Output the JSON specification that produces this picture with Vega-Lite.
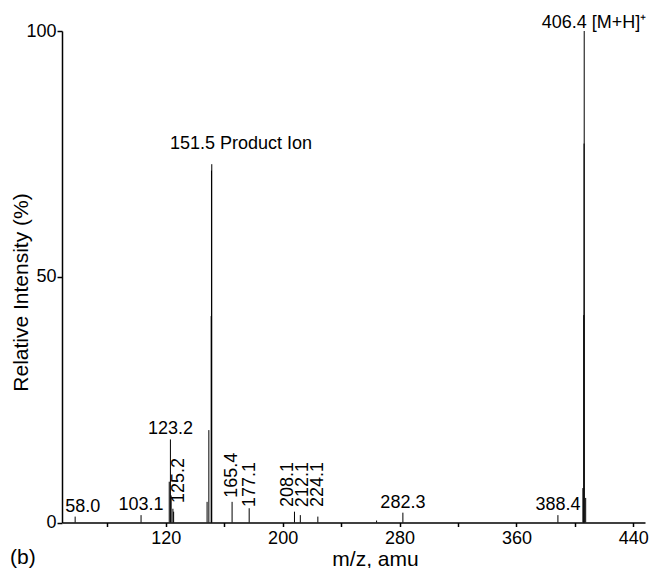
{
  "$schema": "https://vega.github.io/schema/vega-lite/v6.json",
  "width": 583,
  "height": 491.5,
  "autosize": {"type": "none"},
  "padding": {"left": 62, "top": 31, "right": 4, "bottom": 45.5},
  "title": {"text": "(b)", "orient": "bottom", "anchor": "start", "frame": "bounds", "offset": -22, "fontSize": 21, "fontWeight": "normal", "color": "black", "font": "Liberation Sans"},
  "datasets": {
    "sticks": [
      {"mz": 58.0, "intensity": 1.2},
      {"mz": 103.1, "intensity": 1.5},
      {"mz": 122.4, "intensity": 8.3},
      {"mz": 123.2, "intensity": 16.9},
      {"mz": 123.7, "intensity": 5.5},
      {"mz": 124.9, "intensity": 2.8},
      {"mz": 125.4, "intensity": 2.2},
      {"mz": 148.3, "intensity": 4.2},
      {"mz": 149.5, "intensity": 18.8},
      {"mz": 151.1, "intensity": 42.0},
      {"mz": 151.3, "intensity": 71.6},
      {"mz": 151.5, "intensity": 72.9},
      {"mz": 165.4, "intensity": 4.2},
      {"mz": 177.1, "intensity": 2.9},
      {"mz": 208.1, "intensity": 2.2},
      {"mz": 212.1, "intensity": 1.5},
      {"mz": 224.1, "intensity": 1.2},
      {"mz": 264.3, "intensity": 0.4},
      {"mz": 282.3, "intensity": 2.0},
      {"mz": 388.4, "intensity": 1.5},
      {"mz": 405.5, "intensity": 7.0},
      {"mz": 406.1, "intensity": 42.2},
      {"mz": 406.3, "intensity": 77.1},
      {"mz": 406.4, "intensity": 100},
      {"mz": 407.4, "intensity": 5.0}
    ],
    "labels": [
      {"mz": 58.0, "intensity": 1.2, "label": "58.0"},
      {"mz": 103.1, "intensity": 1.5, "label": "103.1"},
      {"mz": 123.2, "intensity": 16.9, "label": "123.2"},
      {"mz": 125.2, "intensity": 2.2, "label": "125.2"},
      {"mz": 151.5, "intensity": 72.9, "label": "151.5 Product Ion"},
      {"mz": 165.4, "intensity": 4.2, "label": "165.4"},
      {"mz": 177.1, "intensity": 2.9, "label": "177.1"},
      {"mz": 208.1, "intensity": 2.2, "label": "208.1"},
      {"mz": 212.1, "intensity": 1.5, "label": "212.1"},
      {"mz": 224.1, "intensity": 1.2, "label": "224.1"},
      {"mz": 282.3, "intensity": 2.0, "label": "282.3"},
      {"mz": 388.4, "intensity": 1.5, "label": "388.4"},
      {"mz": 406.4, "intensity": 100, "label": "406.4 [M+H]⁺"}
    ]
  },
  "encoding": {
    "x": {
      "field": "mz", "type": "quantitative",
      "scale": {"domain": [49, 448], "nice": false, "zero": false},
      "axis": {
        "title": "m/z, amu",
        "values": [80, 120, 160, 200, 240, 280, 320, 360, 400, 440],
        "labelExpr": "datum.value % 80 == 40 ? datum.label : ''",
        "tickSize": 4, "labelPadding": 3,
        "titleX": 313, "titleY": 42.5, "titleBaseline": "alphabetic"
      }
    },
    "y": {
      "field": "intensity", "type": "quantitative",
      "scale": {"domain": [0, 100], "nice": false},
      "axis": {
        "title": "Relative Intensity (%)",
        "values": [0, 50, 100],
        "tickSize": 5, "labelPadding": 1,
        "titleX": -41, "titleY": 261, "titleBaseline": "middle", "titleAlign": "center"
      }
    }
  },
  "layer": [
    {
      "data": {"name": "sticks"},
      "mark": {"type": "rule", "color": "black", "strokeWidth": 1},
      "encoding": {"y2": {"datum": 0}}
    },
    {
      "data": {"name": "labels"},
      "transform": [{"filter": "indexof(['103.1','123.2','282.3','388.4'], datum.label) >= 0"}],
      "mark": {"type": "text", "fontSize": 18, "color": "black", "align": "center", "baseline": "alphabetic", "dy": -5},
      "encoding": {"text": {"field": "label"}}
    },
    {
      "data": {"name": "labels"},
      "transform": [{"filter": "datum.label == '58.0'"}],
      "mark": {"type": "text", "fontSize": 18, "color": "black", "align": "center", "baseline": "alphabetic", "dx": 7.5, "dy": -5},
      "encoding": {"text": {"field": "label"}}
    },
    {
      "data": {"name": "labels"},
      "transform": [{"filter": "datum.label == '151.5 Product Ion'"}],
      "mark": {"type": "text", "fontSize": 18, "color": "black", "align": "left", "baseline": "alphabetic", "dx": -41.8, "dy": -15},
      "encoding": {"text": {"field": "label"}}
    },
    {
      "data": {"name": "labels"},
      "transform": [{"filter": "datum.label == '406.4 [M+H]⁺'"}],
      "mark": {"type": "text", "fontSize": 18, "color": "black", "align": "left", "baseline": "alphabetic", "dx": -42.5, "dy": -3},
      "encoding": {"text": {"field": "label"}}
    },
    {
      "data": {"name": "labels"},
      "transform": [{"filter": "datum.label == '125.2'"}],
      "mark": {"type": "text", "fontSize": 18, "color": "black", "angle": 270, "align": "left", "baseline": "middle", "dx": 8.7, "dy": 6},
      "encoding": {"text": {"field": "label"}}
    },
    {
      "data": {"name": "labels"},
      "transform": [{"filter": "datum.label == '165.4'"}],
      "mark": {"type": "text", "fontSize": 18, "color": "black", "angle": 270, "align": "left", "baseline": "middle", "dx": 4, "dy": 0},
      "encoding": {"text": {"field": "label"}}
    },
    {
      "data": {"name": "labels"},
      "transform": [{"filter": "datum.label == '177.1'"}],
      "mark": {"type": "text", "fontSize": 18, "color": "black", "angle": 270, "align": "left", "baseline": "middle", "dx": 1.2, "dy": 1},
      "encoding": {"text": {"field": "label"}}
    },
    {
      "data": {"name": "labels"},
      "transform": [{"filter": "datum.label == '208.1'"}],
      "mark": {"type": "text", "fontSize": 18, "color": "black", "angle": 270, "align": "left", "baseline": "middle", "dx": 4.7, "dy": -6},
      "encoding": {"text": {"field": "label"}}
    },
    {
      "data": {"name": "labels"},
      "transform": [{"filter": "datum.label == '212.1'"}],
      "mark": {"type": "text", "fontSize": 18, "color": "black", "angle": 270, "align": "left", "baseline": "middle", "dx": 8, "dy": 3},
      "encoding": {"text": {"field": "label"}}
    },
    {
      "data": {"name": "labels"},
      "transform": [{"filter": "datum.label == '224.1'"}],
      "mark": {"type": "text", "fontSize": 18, "color": "black", "angle": 270, "align": "left", "baseline": "middle", "dx": 9.6, "dy": 0},
      "encoding": {"text": {"field": "label"}}
    }
  ],
  "config": {
    "font": "Liberation Sans",
    "view": {"stroke": null},
    "axis": {
      "grid": false,
      "domainColor": "black", "domainWidth": 1.5,
      "tickColor": "black", "tickWidth": 1.5,
      "labelFontSize": 18, "labelColor": "black", "labelFont": "Liberation Sans",
      "titleFontSize": 21, "titleFontWeight": "normal", "titleColor": "black", "titleFont": "Liberation Sans"
    }
  }
}
